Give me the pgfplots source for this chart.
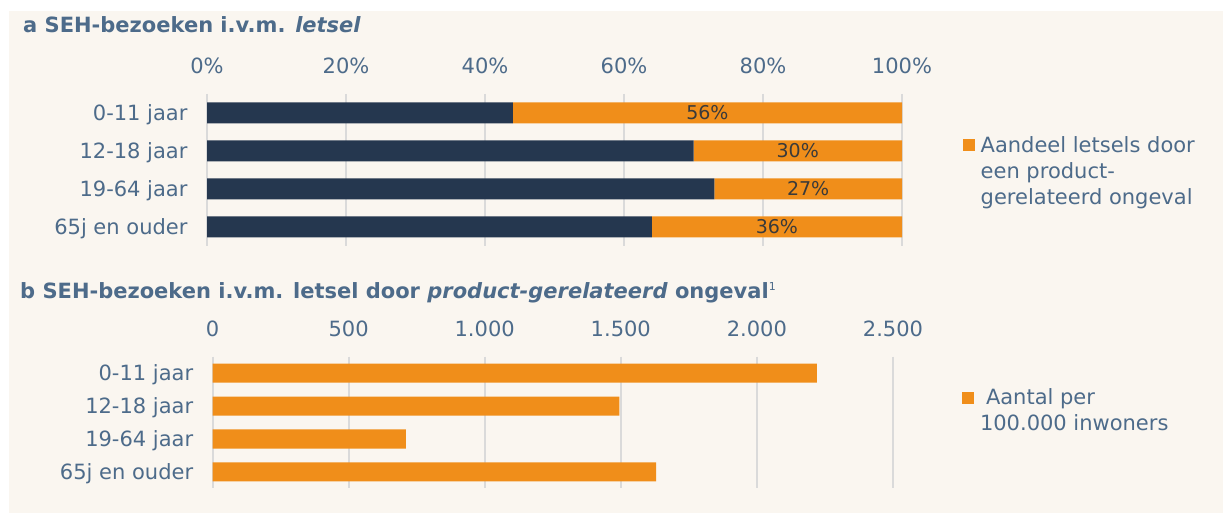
\documentclass[border=0pt]{standalone}
\usepackage{fontspec}
\setmainfont{DejaVu Sans}
\usepackage{pgfplots}
\pgfplotsset{compat=1.18}
\usepackage{pgfplotstable}

\definecolor{cream}{HTML}{FAF6F0}
\definecolor{navy}{HTML}{25374F}
\definecolor{oranje}{HTML}{F08E1A}
\definecolor{tekst}{HTML}{4D6B8A}
\definecolor{gridgrijs}{HTML}{DADADA}
\definecolor{labelgrijs}{HTML}{3A3A3A}

% panel a: aandeel (%) per leeftijdsgroep
\pgfplotstableread{
idx navy orange
0 44 56
1 70 30
2 73 27
3 64 36
}\aandeel

% panel b: aantal per 100.000 inwoners
\pgfplotstableread{
idx aantal
0 2220
1 1495
2 710
3 1630
}\aantal

\newcommand{\grootfont}{\fontsize{21}{26}\selectfont}
\newcommand{\regels}[1]{\begin{tabular}[t]{@{}l@{}}#1\end{tabular}}

\pgfplotsset{
  /pgf/number format/assume math mode=true,
  seh/.style={
    scale only axis,
    anchor=south west,
    y dir=reverse,
    ymin=-0.5, ymax=3.5,
    ytick={0,1,2,3},
    yticklabels={0-11 jaar,12-18 jaar,19-64 jaar,65j en ouder},
    axis x line*=top,
    axis y line*=left,
    axis line style={draw=none},
    major tick length=0pt,
    xmajorgrids,
    major grid style={gridgrijs, line width=2pt},
    tick label style={font=\grootfont, text=tekst},
    yticklabel style={anchor=base east, yshift=-7.6pt},
    clip=false,
  },
  sehlegend/.style={
    legend style={draw=none, fill=none, inner sep=0pt, outer sep=0pt,
      anchor=north west, column sep=6pt,
      nodes={inner sep=0pt, anchor=base west, text=tekst, font=\grootfont}},
    legend image code/.code={\fill[##1] (0pt,1.3pt) rectangle (12pt,13.3pt);},
  },
}

\begin{document}
\begin{tikzpicture}
\path[use as bounding box] (0pt,0pt) rectangle (1223pt,513pt);
\fill[white] (0pt,0pt) rectangle (1223pt,513pt);
\fill[cream] (9pt,0pt) rectangle (1223pt,502pt);

% titels
\node[anchor=base west, inner sep=0pt, text=tekst, font=\bfseries\grootfont]
  at (23pt,480.3pt) {a SEH-bezoeken i.v.m. \textit{letsel}};
\node[anchor=base west, inner sep=0pt, text=tekst, font=\bfseries\grootfont]
  at (20pt,214.7pt) {b SEH-bezoeken i.v.m. letsel door \textit{product-gerelateerd} ongeval\raisebox{8pt}{\mdseries\fontsize{11}{11}\selectfont 1}};

% panel a
\begin{axis}[seh, at={(207pt,267pt)}, width=695pt, height=152pt,
  xbar stacked, bar width=21pt,
  xmin=0, xmax=100, xtick={0,20,...,100},
  xticklabel={\pgfmathprintnumber{\tick}\%},
  xticklabel style={anchor=base, yshift=20.7pt},
  yticklabel style={xshift=-16pt},
]
\addplot[fill=navy, draw=none] table[x=navy, y=idx]{\aandeel};
\addplot[fill=oranje, draw=none] table[x=orange, y=idx]{\aandeel};
\end{axis}

% panel a: labels en legenda
\begin{axis}[scale only axis, anchor=south west, at={(207pt,267pt)}, width=695pt, height=152pt,
  hide axis, clip=false, y dir=reverse, ymin=-0.5, ymax=3.5, xmin=0, xmax=100,
  sehlegend,
  legend style={at={(1.0873,0.7381)}},
]
\addplot[draw=none, mark=none, forget plot, point meta=explicit,
  nodes near coords={\pgfmathprintnumber{\pgfplotspointmeta}\%},
  nodes near coords align={center},
  every node near coord/.append style={font=\fontsize{19}{23}\selectfont, text=labelgrijs}]
  table[x expr=\thisrow{navy}+0.5*\thisrow{orange}, y=idx, meta=orange]{\aandeel};
\addlegendimage{fill=oranje, draw=none}
\addlegendentry{\regels{Aandeel letsels door\\een product-\\gerelateerd ongeval}}
\end{axis}

% panel b
\begin{axis}[seh, at={(212.5pt,24.5pt)}, width=680.5pt, height=132pt,
  xbar, bar width=19pt,
  xmin=0, xmax=2500, xtick={0,500,...,2500},
  scaled x ticks=false,
  xticklabel style={anchor=base, yshift=19.8pt, /pgf/number format/1000 sep={.}},
  yticklabel style={xshift=-15.8pt},
  sehlegend,
  legend style={at={(1.1014,0.7705)}},
]
\addplot[fill=oranje, draw=none] table[x=aantal, y=idx]{\aantal};
\addlegendentry{\regels{\hspace*{6pt}Aantal per\\100.000 inwoners}}
\end{axis}
\end{tikzpicture}
\end{document}
